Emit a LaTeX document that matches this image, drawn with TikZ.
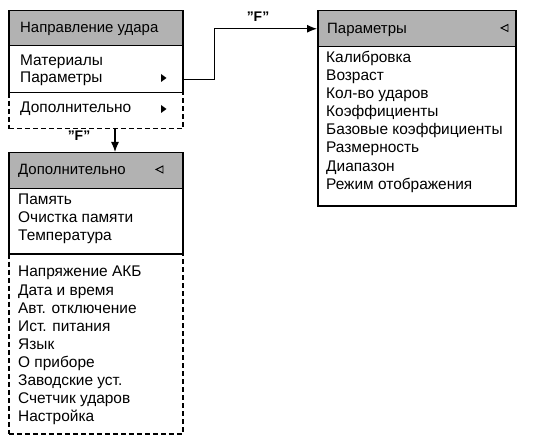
\documentclass[tikz,border=0pt]{standalone}
\usepackage{fontspec}
\setmainfont{Liberation Sans}
\usetikzlibrary{arrows.meta}
\begin{document}
\begin{tikzpicture}[x=1bp,y=-1bp,
 hdr/.style={draw=black, line width=1.5bp, fill=gray!60, anchor=north west, inner sep=0},
 sec/.style={draw=black, line width=1.5bp, anchor=north west, inner sep=0},
 dsec/.style={sec, dash pattern=on 5bp off 3bp},
 item/.style={anchor=base west, inner sep=0, font=\fontsize{15.5}{18}\selectfont},
 hitem/.style={item, font=\fontsize{15}{18}\selectfont},
 lbl/.style={inner sep=0, font=\bfseries\fontsize{14}{16}\selectfont},
 conn/.style={line width=1.2bp, -{Latex[length=10bp,width=8bp]}},
 otri/.style={draw=black, line width=0.9bp}
]
\useasboundingbox (0,0) rectangle (554,435);

% Box 1
\node[dsec, minimum width=174bp, minimum height=36bp] (d1) at (8,92) {};
\node[sec, minimum width=174bp, minimum height=47bp] (s1) at (8,45) {};
\node[hdr, minimum width=174bp, minimum height=35bp] (h1) at (8,10) {};
\node[hitem] (t1) at (20,33) {Направление удара};
\node[item] (i11) at (20,66) {Материалы};
\node[item] (i12) at (20,83) {Параметры};
\node[item] (i13) at (20,113) {Дополнительно};
\fill (161,74) -- (166.5,78) -- (161,82) -- cycle;
\fill (161,105) -- (166.5,109) -- (161,113) -- cycle;

% Box 2
\node[sec, minimum width=198bp, minimum height=159bp] (s2) at (317,46) {};
\node[hdr, minimum width=198bp, minimum height=36bp] (h2) at (317,10) {};
\node[hitem] (t2) at (327,34) {Параметры};
\draw[otri] (508,24.5) -- (501,28) -- (508,31.5) -- cycle;
\node[item] (i21) at (326,63) {Калибровка};
\node[item] (i22) at (326,81) {Возраст};
\node[item] (i23) at (326,99) {Кол-во ударов};
\node[item] (i24) at (326,117) {Коэффициенты};
\node[item] (i25) at (326,135) {Базовые коэффициенты};
\node[item] (i26) at (326,153) {Размерность};
\node[item] (i27) at (326,172) {Диапазон};
\node[item] (i28) at (326,190) {Режим отображения};

% Box 3
\node[dsec, minimum width=174bp, minimum height=180bp] (d3) at (8,253) {};
\node[sec, minimum width=174bp, minimum height=65bp] (s3) at (8,188) {};
\node[hdr, minimum width=174bp, minimum height=36bp] (h3) at (8,152) {};
\node[hitem] (t3) at (18,175) {Дополнительно};
\draw[otri] (163,166) -- (156,169.5) -- (163,173) -- cycle;
\node[item] (i31) at (18,205) {Память};
\node[item] (i32) at (18,223) {Очистка памяти};
\node[item] (i33) at (18,241) {Температура};
\node[item] (i34) at (18,277) {Напряжение АКБ};
\node[item] (i35) at (18,295) {Дата и время};
\node[item] (i36) at (18,313) {Авт. отключение};
\node[item] (i37) at (18,331) {Ист. питания};
\node[item] (i38) at (18,349) {Язык};
\node[item] (i39) at (18,367) {О приборе};
\node[item] (i310) at (18,385) {Заводские уст.};
\node[item] (i311) at (18,403) {Счетчик ударов};
\node[item] (i312) at (18,421) {Настройка};

% Connectors
\draw[conn] (s1.east |- i12.center) -- ++(31,0) |- (h2.west);
\draw[conn] ([xshift=107bp]d1.south west) -- ([xshift=107bp]h3.north west);
\node[lbl] (f1) at (258,17) {"F"};
\node[lbl] (f2) at (79,136) {"F"};
\end{tikzpicture}
\end{document}
